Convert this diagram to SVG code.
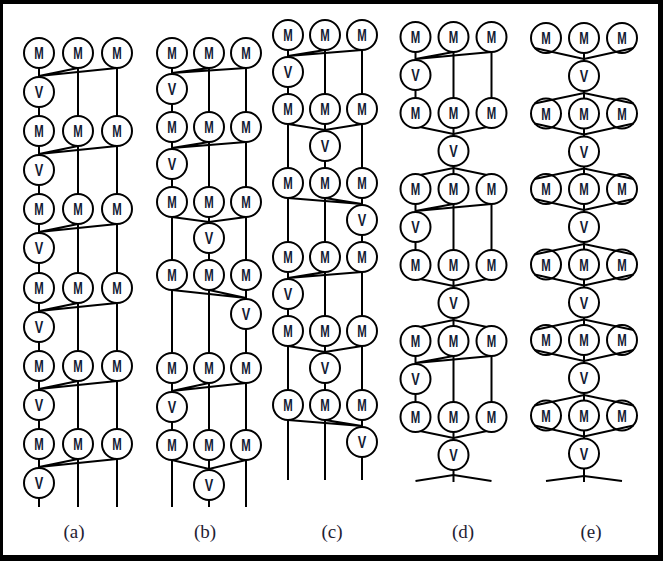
<svg xmlns="http://www.w3.org/2000/svg" width="663" height="561" viewBox="0 0 663 561">
<style>
.n circle{fill:#fff;stroke:#000;stroke-width:2}
.n text{font-family:"Liberation Sans",Arial,sans-serif;font-weight:bold;font-size:16.5px;fill:#121a33;text-anchor:middle}
.cn line,.cn polyline{stroke:#000;stroke-width:2;fill:none}
.lbl{font-family:"Liberation Serif","Times New Roman",serif;font-size:19px;fill:#1f2233;text-anchor:middle}
</style>
<rect width="663" height="561" fill="#000"/>
<rect x="3" y="4" width="655" height="551" fill="#fff"/>
<g id="connectors" class="cn">
<!-- (a) -->
<line x1="39" y1="68" x2="39" y2="507"/><line x1="78" y1="68" x2="78" y2="507"/><line x1="117" y1="68" x2="117" y2="507"/>
<polyline points="78,68 39,76 117,68"/>
<polyline points="78,146 39,154 117,146"/>
<polyline points="78,224 39,232 117,224"/>
<polyline points="78,303 39,311 117,303"/>
<polyline points="78,381 39,389 117,381"/>
<polyline points="78,459 39,467 117,459"/>
<!-- (b) -->
<line x1="172" y1="68" x2="172" y2="507"/><line x1="209" y1="68" x2="209" y2="507"/><line x1="246" y1="68" x2="246" y2="507"/>
<polyline points="209,68 172,73 246,68"/>
<polyline points="209,142 172,148 246,142"/>
<polyline points="172,217 209,222 246,217"/>
<polyline points="172,290 246,298 209,290"/>
<polyline points="209,383 172,391 246,383"/>
<polyline points="172,460 209,469 246,460"/>
<!-- (c) -->
<line x1="288" y1="50" x2="288" y2="480"/><line x1="325" y1="50" x2="325" y2="480"/><line x1="362" y1="50" x2="362" y2="480"/>
<polyline points="325,50 288,56 362,50"/>
<polyline points="288,124 325,130 362,124"/>
<polyline points="288,198 362,204 325,198"/>
<polyline points="325,272 288,278 362,272"/>
<polyline points="288,346 325,352 362,346"/>
<polyline points="288,420 362,426 325,420"/>
<!-- (d) -->
<line x1="453.5" y1="52" x2="453.5" y2="482"/>
<line x1="415.5" y1="52" x2="415.5" y2="98"/><line x1="415.5" y1="204" x2="415.5" y2="250"/><line x1="415.5" y1="356" x2="415.5" y2="402"/>
<line x1="491.5" y1="52" x2="491.5" y2="98"/><line x1="491.5" y1="204" x2="491.5" y2="250"/><line x1="491.5" y1="356" x2="491.5" y2="402"/>
<polyline points="453.5,52 415.5,59 491.5,52"/>
<polyline points="453.5,204 415.5,211 491.5,204"/>
<polyline points="453.5,356 415.5,363 491.5,356"/>
<polyline points="405.5,124 453.5,134 501.5,124"/>
<polyline points="405.5,178 453.5,168 501.5,178"/>
<polyline points="405.5,276 453.5,286 501.5,276"/>
<polyline points="405.5,330 453.5,320 501.5,330"/>
<polyline points="405.5,428 453.5,438 501.5,428"/>
<polyline points="415.5,481 453.5,475 491.5,481"/>
<!-- (e) -->
<line x1="584" y1="53" x2="584" y2="482"/>
<polyline points="546,481 584,476 622,481"/>
</g>
<!-- (a) nodes -->
<g id="a-m11" class="n"><circle cx="39" cy="53" r="15"/><text x="39" y="59" textLength="9.5" lengthAdjust="spacingAndGlyphs">M</text></g>
<g id="a-m12" class="n"><circle cx="78" cy="53" r="15"/><text x="78" y="59" textLength="9.5" lengthAdjust="spacingAndGlyphs">M</text></g>
<g id="a-m13" class="n"><circle cx="117" cy="53" r="15"/><text x="117" y="59" textLength="9.5" lengthAdjust="spacingAndGlyphs">M</text></g>
<g id="a-v1" class="n"><circle cx="39" cy="92" r="15"/><text x="39" y="98" textLength="8.5" lengthAdjust="spacingAndGlyphs">V</text></g>
<g id="a-m21" class="n"><circle cx="39" cy="131" r="15"/><text x="39" y="137" textLength="9.5" lengthAdjust="spacingAndGlyphs">M</text></g>
<g id="a-m22" class="n"><circle cx="78" cy="131" r="15"/><text x="78" y="137" textLength="9.5" lengthAdjust="spacingAndGlyphs">M</text></g>
<g id="a-m23" class="n"><circle cx="117" cy="131" r="15"/><text x="117" y="137" textLength="9.5" lengthAdjust="spacingAndGlyphs">M</text></g>
<g id="a-v2" class="n"><circle cx="39" cy="170" r="15"/><text x="39" y="176" textLength="8.5" lengthAdjust="spacingAndGlyphs">V</text></g>
<g id="a-m31" class="n"><circle cx="39" cy="209" r="15"/><text x="39" y="215" textLength="9.5" lengthAdjust="spacingAndGlyphs">M</text></g>
<g id="a-m32" class="n"><circle cx="78" cy="209" r="15"/><text x="78" y="215" textLength="9.5" lengthAdjust="spacingAndGlyphs">M</text></g>
<g id="a-m33" class="n"><circle cx="117" cy="209" r="15"/><text x="117" y="215" textLength="9.5" lengthAdjust="spacingAndGlyphs">M</text></g>
<g id="a-v3" class="n"><circle cx="39" cy="248" r="15"/><text x="39" y="254" textLength="8.5" lengthAdjust="spacingAndGlyphs">V</text></g>
<g id="a-m41" class="n"><circle cx="39" cy="288" r="15"/><text x="39" y="294" textLength="9.5" lengthAdjust="spacingAndGlyphs">M</text></g>
<g id="a-m42" class="n"><circle cx="78" cy="288" r="15"/><text x="78" y="294" textLength="9.5" lengthAdjust="spacingAndGlyphs">M</text></g>
<g id="a-m43" class="n"><circle cx="117" cy="288" r="15"/><text x="117" y="294" textLength="9.5" lengthAdjust="spacingAndGlyphs">M</text></g>
<g id="a-v4" class="n"><circle cx="39" cy="327" r="15"/><text x="39" y="333" textLength="8.5" lengthAdjust="spacingAndGlyphs">V</text></g>
<g id="a-m51" class="n"><circle cx="39" cy="366" r="15"/><text x="39" y="372" textLength="9.5" lengthAdjust="spacingAndGlyphs">M</text></g>
<g id="a-m52" class="n"><circle cx="78" cy="366" r="15"/><text x="78" y="372" textLength="9.5" lengthAdjust="spacingAndGlyphs">M</text></g>
<g id="a-m53" class="n"><circle cx="117" cy="366" r="15"/><text x="117" y="372" textLength="9.5" lengthAdjust="spacingAndGlyphs">M</text></g>
<g id="a-v5" class="n"><circle cx="39" cy="405" r="15"/><text x="39" y="411" textLength="8.5" lengthAdjust="spacingAndGlyphs">V</text></g>
<g id="a-m61" class="n"><circle cx="39" cy="444" r="15"/><text x="39" y="450" textLength="9.5" lengthAdjust="spacingAndGlyphs">M</text></g>
<g id="a-m62" class="n"><circle cx="78" cy="444" r="15"/><text x="78" y="450" textLength="9.5" lengthAdjust="spacingAndGlyphs">M</text></g>
<g id="a-m63" class="n"><circle cx="117" cy="444" r="15"/><text x="117" y="450" textLength="9.5" lengthAdjust="spacingAndGlyphs">M</text></g>
<g id="a-v6" class="n"><circle cx="39" cy="483" r="15"/><text x="39" y="489" textLength="8.5" lengthAdjust="spacingAndGlyphs">V</text></g>
<!-- (b) nodes -->
<g id="b-m11" class="n"><circle cx="172" cy="53" r="15"/><text x="172" y="59" textLength="9.5" lengthAdjust="spacingAndGlyphs">M</text></g>
<g id="b-m12" class="n"><circle cx="209" cy="53" r="15"/><text x="209" y="59" textLength="9.5" lengthAdjust="spacingAndGlyphs">M</text></g>
<g id="b-m13" class="n"><circle cx="246" cy="53" r="15"/><text x="246" y="59" textLength="9.5" lengthAdjust="spacingAndGlyphs">M</text></g>
<g id="b-v1" class="n"><circle cx="172" cy="89" r="15"/><text x="172" y="95" textLength="8.5" lengthAdjust="spacingAndGlyphs">V</text></g>
<g id="b-m21" class="n"><circle cx="172" cy="127" r="15"/><text x="172" y="133" textLength="9.5" lengthAdjust="spacingAndGlyphs">M</text></g>
<g id="b-m22" class="n"><circle cx="209" cy="127" r="15"/><text x="209" y="133" textLength="9.5" lengthAdjust="spacingAndGlyphs">M</text></g>
<g id="b-m23" class="n"><circle cx="246" cy="127" r="15"/><text x="246" y="133" textLength="9.5" lengthAdjust="spacingAndGlyphs">M</text></g>
<g id="b-v2" class="n"><circle cx="172" cy="164" r="15"/><text x="172" y="170" textLength="8.5" lengthAdjust="spacingAndGlyphs">V</text></g>
<g id="b-m31" class="n"><circle cx="172" cy="202" r="15"/><text x="172" y="208" textLength="9.5" lengthAdjust="spacingAndGlyphs">M</text></g>
<g id="b-m32" class="n"><circle cx="209" cy="202" r="15"/><text x="209" y="208" textLength="9.5" lengthAdjust="spacingAndGlyphs">M</text></g>
<g id="b-m33" class="n"><circle cx="246" cy="202" r="15"/><text x="246" y="208" textLength="9.5" lengthAdjust="spacingAndGlyphs">M</text></g>
<g id="b-v3" class="n"><circle cx="209" cy="238" r="15"/><text x="209" y="244" textLength="8.5" lengthAdjust="spacingAndGlyphs">V</text></g>
<g id="b-m41" class="n"><circle cx="172" cy="275" r="15"/><text x="172" y="281" textLength="9.5" lengthAdjust="spacingAndGlyphs">M</text></g>
<g id="b-m42" class="n"><circle cx="209" cy="275" r="15"/><text x="209" y="281" textLength="9.5" lengthAdjust="spacingAndGlyphs">M</text></g>
<g id="b-m43" class="n"><circle cx="246" cy="275" r="15"/><text x="246" y="281" textLength="9.5" lengthAdjust="spacingAndGlyphs">M</text></g>
<g id="b-v4" class="n"><circle cx="246" cy="314" r="15"/><text x="246" y="320" textLength="8.5" lengthAdjust="spacingAndGlyphs">V</text></g>
<g id="b-m51" class="n"><circle cx="172" cy="368" r="15"/><text x="172" y="374" textLength="9.5" lengthAdjust="spacingAndGlyphs">M</text></g>
<g id="b-m52" class="n"><circle cx="209" cy="368" r="15"/><text x="209" y="374" textLength="9.5" lengthAdjust="spacingAndGlyphs">M</text></g>
<g id="b-m53" class="n"><circle cx="246" cy="368" r="15"/><text x="246" y="374" textLength="9.5" lengthAdjust="spacingAndGlyphs">M</text></g>
<g id="b-v5" class="n"><circle cx="172" cy="407" r="15"/><text x="172" y="413" textLength="8.5" lengthAdjust="spacingAndGlyphs">V</text></g>
<g id="b-m61" class="n"><circle cx="172" cy="445" r="15"/><text x="172" y="451" textLength="9.5" lengthAdjust="spacingAndGlyphs">M</text></g>
<g id="b-m62" class="n"><circle cx="209" cy="445" r="15"/><text x="209" y="451" textLength="9.5" lengthAdjust="spacingAndGlyphs">M</text></g>
<g id="b-m63" class="n"><circle cx="246" cy="445" r="15"/><text x="246" y="451" textLength="9.5" lengthAdjust="spacingAndGlyphs">M</text></g>
<g id="b-v6" class="n"><circle cx="209" cy="485" r="15"/><text x="209" y="491" textLength="8.5" lengthAdjust="spacingAndGlyphs">V</text></g>
<!-- (c) nodes -->
<g id="c-m11" class="n"><circle cx="288" cy="35" r="15"/><text x="288" y="41" textLength="9.5" lengthAdjust="spacingAndGlyphs">M</text></g>
<g id="c-m12" class="n"><circle cx="325" cy="35" r="15"/><text x="325" y="41" textLength="9.5" lengthAdjust="spacingAndGlyphs">M</text></g>
<g id="c-m13" class="n"><circle cx="362" cy="35" r="15"/><text x="362" y="41" textLength="9.5" lengthAdjust="spacingAndGlyphs">M</text></g>
<g id="c-v1" class="n"><circle cx="288" cy="72" r="15"/><text x="288" y="78" textLength="8.5" lengthAdjust="spacingAndGlyphs">V</text></g>
<g id="c-m21" class="n"><circle cx="288" cy="109" r="15"/><text x="288" y="115" textLength="9.5" lengthAdjust="spacingAndGlyphs">M</text></g>
<g id="c-m22" class="n"><circle cx="325" cy="109" r="15"/><text x="325" y="115" textLength="9.5" lengthAdjust="spacingAndGlyphs">M</text></g>
<g id="c-m23" class="n"><circle cx="362" cy="109" r="15"/><text x="362" y="115" textLength="9.5" lengthAdjust="spacingAndGlyphs">M</text></g>
<g id="c-v2" class="n"><circle cx="325" cy="146" r="15"/><text x="325" y="152" textLength="8.5" lengthAdjust="spacingAndGlyphs">V</text></g>
<g id="c-m31" class="n"><circle cx="288" cy="183" r="15"/><text x="288" y="189" textLength="9.5" lengthAdjust="spacingAndGlyphs">M</text></g>
<g id="c-m32" class="n"><circle cx="325" cy="183" r="15"/><text x="325" y="189" textLength="9.5" lengthAdjust="spacingAndGlyphs">M</text></g>
<g id="c-m33" class="n"><circle cx="362" cy="183" r="15"/><text x="362" y="189" textLength="9.5" lengthAdjust="spacingAndGlyphs">M</text></g>
<g id="c-v3" class="n"><circle cx="362" cy="220" r="15"/><text x="362" y="226" textLength="8.5" lengthAdjust="spacingAndGlyphs">V</text></g>
<g id="c-m41" class="n"><circle cx="288" cy="257" r="15"/><text x="288" y="263" textLength="9.5" lengthAdjust="spacingAndGlyphs">M</text></g>
<g id="c-m42" class="n"><circle cx="325" cy="257" r="15"/><text x="325" y="263" textLength="9.5" lengthAdjust="spacingAndGlyphs">M</text></g>
<g id="c-m43" class="n"><circle cx="362" cy="257" r="15"/><text x="362" y="263" textLength="9.5" lengthAdjust="spacingAndGlyphs">M</text></g>
<g id="c-v4" class="n"><circle cx="288" cy="294" r="15"/><text x="288" y="300" textLength="8.5" lengthAdjust="spacingAndGlyphs">V</text></g>
<g id="c-m51" class="n"><circle cx="288" cy="331" r="15"/><text x="288" y="337" textLength="9.5" lengthAdjust="spacingAndGlyphs">M</text></g>
<g id="c-m52" class="n"><circle cx="325" cy="331" r="15"/><text x="325" y="337" textLength="9.5" lengthAdjust="spacingAndGlyphs">M</text></g>
<g id="c-m53" class="n"><circle cx="362" cy="331" r="15"/><text x="362" y="337" textLength="9.5" lengthAdjust="spacingAndGlyphs">M</text></g>
<g id="c-v5" class="n"><circle cx="325" cy="368" r="15"/><text x="325" y="374" textLength="8.5" lengthAdjust="spacingAndGlyphs">V</text></g>
<g id="c-m61" class="n"><circle cx="288" cy="405" r="15"/><text x="288" y="411" textLength="9.5" lengthAdjust="spacingAndGlyphs">M</text></g>
<g id="c-m62" class="n"><circle cx="325" cy="405" r="15"/><text x="325" y="411" textLength="9.5" lengthAdjust="spacingAndGlyphs">M</text></g>
<g id="c-m63" class="n"><circle cx="362" cy="405" r="15"/><text x="362" y="411" textLength="9.5" lengthAdjust="spacingAndGlyphs">M</text></g>
<g id="c-v6" class="n"><circle cx="362" cy="442" r="15"/><text x="362" y="448" textLength="8.5" lengthAdjust="spacingAndGlyphs">V</text></g>
<!-- (d) nodes -->
<g id="d-m11" class="n"><circle cx="415.5" cy="37" r="15"/><text x="415.5" y="43" textLength="9.5" lengthAdjust="spacingAndGlyphs">M</text></g>
<g id="d-m12" class="n"><circle cx="453.5" cy="37" r="15"/><text x="453.5" y="43" textLength="9.5" lengthAdjust="spacingAndGlyphs">M</text></g>
<g id="d-m13" class="n"><circle cx="491.5" cy="37" r="15"/><text x="491.5" y="43" textLength="9.5" lengthAdjust="spacingAndGlyphs">M</text></g>
<g id="d-v1" class="n"><circle cx="415.5" cy="75" r="15"/><text x="415.5" y="81" textLength="8.5" lengthAdjust="spacingAndGlyphs">V</text></g>
<g id="d-m21" class="n"><circle cx="415.5" cy="113" r="15"/><text x="415.5" y="119" textLength="9.5" lengthAdjust="spacingAndGlyphs">M</text></g>
<g id="d-m22" class="n"><circle cx="453.5" cy="113" r="15"/><text x="453.5" y="119" textLength="9.5" lengthAdjust="spacingAndGlyphs">M</text></g>
<g id="d-m23" class="n"><circle cx="491.5" cy="113" r="15"/><text x="491.5" y="119" textLength="9.5" lengthAdjust="spacingAndGlyphs">M</text></g>
<g id="d-v2" class="n"><circle cx="453.5" cy="151" r="15"/><text x="453.5" y="157" textLength="8.5" lengthAdjust="spacingAndGlyphs">V</text></g>
<g id="d-m31" class="n"><circle cx="415.5" cy="189" r="15"/><text x="415.5" y="195" textLength="9.5" lengthAdjust="spacingAndGlyphs">M</text></g>
<g id="d-m32" class="n"><circle cx="453.5" cy="189" r="15"/><text x="453.5" y="195" textLength="9.5" lengthAdjust="spacingAndGlyphs">M</text></g>
<g id="d-m33" class="n"><circle cx="491.5" cy="189" r="15"/><text x="491.5" y="195" textLength="9.5" lengthAdjust="spacingAndGlyphs">M</text></g>
<g id="d-v3" class="n"><circle cx="415.5" cy="227" r="15"/><text x="415.5" y="233" textLength="8.5" lengthAdjust="spacingAndGlyphs">V</text></g>
<g id="d-m41" class="n"><circle cx="415.5" cy="265" r="15"/><text x="415.5" y="271" textLength="9.5" lengthAdjust="spacingAndGlyphs">M</text></g>
<g id="d-m42" class="n"><circle cx="453.5" cy="265" r="15"/><text x="453.5" y="271" textLength="9.5" lengthAdjust="spacingAndGlyphs">M</text></g>
<g id="d-m43" class="n"><circle cx="491.5" cy="265" r="15"/><text x="491.5" y="271" textLength="9.5" lengthAdjust="spacingAndGlyphs">M</text></g>
<g id="d-v4" class="n"><circle cx="453.5" cy="303" r="15"/><text x="453.5" y="309" textLength="8.5" lengthAdjust="spacingAndGlyphs">V</text></g>
<g id="d-m51" class="n"><circle cx="415.5" cy="341" r="15"/><text x="415.5" y="347" textLength="9.5" lengthAdjust="spacingAndGlyphs">M</text></g>
<g id="d-m52" class="n"><circle cx="453.5" cy="341" r="15"/><text x="453.5" y="347" textLength="9.5" lengthAdjust="spacingAndGlyphs">M</text></g>
<g id="d-m53" class="n"><circle cx="491.5" cy="341" r="15"/><text x="491.5" y="347" textLength="9.5" lengthAdjust="spacingAndGlyphs">M</text></g>
<g id="d-v5" class="n"><circle cx="415.5" cy="379" r="15"/><text x="415.5" y="385" textLength="8.5" lengthAdjust="spacingAndGlyphs">V</text></g>
<g id="d-m61" class="n"><circle cx="415.5" cy="417" r="15"/><text x="415.5" y="423" textLength="9.5" lengthAdjust="spacingAndGlyphs">M</text></g>
<g id="d-m62" class="n"><circle cx="453.5" cy="417" r="15"/><text x="453.5" y="423" textLength="9.5" lengthAdjust="spacingAndGlyphs">M</text></g>
<g id="d-m63" class="n"><circle cx="491.5" cy="417" r="15"/><text x="491.5" y="423" textLength="9.5" lengthAdjust="spacingAndGlyphs">M</text></g>
<g id="d-v6" class="n"><circle cx="453.5" cy="455" r="15"/><text x="453.5" y="461" textLength="8.5" lengthAdjust="spacingAndGlyphs">V</text></g>
<!-- (e) nodes -->
<g id="e-m11" class="n"><circle cx="546" cy="38" r="15"/><text x="546" y="44" textLength="9.5" lengthAdjust="spacingAndGlyphs">M</text></g>
<g id="e-m12" class="n"><circle cx="584" cy="38" r="15"/><text x="584" y="44" textLength="9.5" lengthAdjust="spacingAndGlyphs">M</text></g>
<g id="e-m13" class="n"><circle cx="622" cy="38" r="15"/><text x="622" y="44" textLength="9.5" lengthAdjust="spacingAndGlyphs">M</text></g>
<g id="e-v1" class="n"><circle cx="584" cy="76" r="15"/><text x="584" y="82" textLength="8.5" lengthAdjust="spacingAndGlyphs">V</text></g>
<g id="e-m21" class="n"><circle cx="546" cy="113.5" r="15"/><text x="546" y="119.5" textLength="9.5" lengthAdjust="spacingAndGlyphs">M</text></g>
<g id="e-m22" class="n"><circle cx="584" cy="113.5" r="15"/><text x="584" y="119.5" textLength="9.5" lengthAdjust="spacingAndGlyphs">M</text></g>
<g id="e-m23" class="n"><circle cx="622" cy="113.5" r="15"/><text x="622" y="119.5" textLength="9.5" lengthAdjust="spacingAndGlyphs">M</text></g>
<g id="e-v2" class="n"><circle cx="584" cy="151.5" r="15"/><text x="584" y="157.5" textLength="8.5" lengthAdjust="spacingAndGlyphs">V</text></g>
<g id="e-m31" class="n"><circle cx="546" cy="189" r="15"/><text x="546" y="195" textLength="9.5" lengthAdjust="spacingAndGlyphs">M</text></g>
<g id="e-m32" class="n"><circle cx="584" cy="189" r="15"/><text x="584" y="195" textLength="9.5" lengthAdjust="spacingAndGlyphs">M</text></g>
<g id="e-m33" class="n"><circle cx="622" cy="189" r="15"/><text x="622" y="195" textLength="9.5" lengthAdjust="spacingAndGlyphs">M</text></g>
<g id="e-v3" class="n"><circle cx="584" cy="227" r="15"/><text x="584" y="233" textLength="8.5" lengthAdjust="spacingAndGlyphs">V</text></g>
<g id="e-m41" class="n"><circle cx="546" cy="264.5" r="15"/><text x="546" y="270.5" textLength="9.5" lengthAdjust="spacingAndGlyphs">M</text></g>
<g id="e-m42" class="n"><circle cx="584" cy="264.5" r="15"/><text x="584" y="270.5" textLength="9.5" lengthAdjust="spacingAndGlyphs">M</text></g>
<g id="e-m43" class="n"><circle cx="622" cy="264.5" r="15"/><text x="622" y="270.5" textLength="9.5" lengthAdjust="spacingAndGlyphs">M</text></g>
<g id="e-v4" class="n"><circle cx="584" cy="302.5" r="15"/><text x="584" y="308.5" textLength="8.5" lengthAdjust="spacingAndGlyphs">V</text></g>
<g id="e-m51" class="n"><circle cx="546" cy="340" r="15"/><text x="546" y="346" textLength="9.5" lengthAdjust="spacingAndGlyphs">M</text></g>
<g id="e-m52" class="n"><circle cx="584" cy="340" r="15"/><text x="584" y="346" textLength="9.5" lengthAdjust="spacingAndGlyphs">M</text></g>
<g id="e-m53" class="n"><circle cx="622" cy="340" r="15"/><text x="622" y="346" textLength="9.5" lengthAdjust="spacingAndGlyphs">M</text></g>
<g id="e-v5" class="n"><circle cx="584" cy="378" r="15"/><text x="584" y="384" textLength="8.5" lengthAdjust="spacingAndGlyphs">V</text></g>
<g id="e-m61" class="n"><circle cx="546" cy="415.5" r="15"/><text x="546" y="421.5" textLength="9.5" lengthAdjust="spacingAndGlyphs">M</text></g>
<g id="e-m62" class="n"><circle cx="584" cy="415.5" r="15"/><text x="584" y="421.5" textLength="9.5" lengthAdjust="spacingAndGlyphs">M</text></g>
<g id="e-m63" class="n"><circle cx="622" cy="415.5" r="15"/><text x="622" y="421.5" textLength="9.5" lengthAdjust="spacingAndGlyphs">M</text></g>
<g id="e-v6" class="n"><circle cx="584" cy="453.5" r="15"/><text x="584" y="459.5" textLength="8.5" lengthAdjust="spacingAndGlyphs">V</text></g>
<!-- (e) fan connectors, drawn over the circles so they hug the outer shoulders -->
<g id="connectors-e" class="cn">
<polyline points="534.5,48 584,59 633.5,48"/>
<polyline points="534.5,103.5 584,93 633.5,103.5"/>
<polyline points="534.5,123.5 584,134.5 633.5,123.5"/>
<polyline points="534.5,179 584,168.5 633.5,179"/>
<polyline points="534.5,199 584,210 633.5,199"/>
<polyline points="534.5,254.5 584,244 633.5,254.5"/>
<polyline points="534.5,274.5 584,285.5 633.5,274.5"/>
<polyline points="534.5,330 584,319.5 633.5,330"/>
<polyline points="534.5,350 584,361 633.5,350"/>
<polyline points="534.5,405.5 584,395 633.5,405.5"/>
<polyline points="534.5,425.5 584,436.5 633.5,425.5"/>
</g>
<!-- captions -->
<g id="captions">
<text class="lbl" x="74" y="538">(a)</text>
<text class="lbl" x="205" y="538">(b)</text>
<text class="lbl" x="332" y="538">(c)</text>
<text class="lbl" x="463" y="538">(d)</text>
<text class="lbl" x="591" y="538">(e)</text>
</g>
</svg>
